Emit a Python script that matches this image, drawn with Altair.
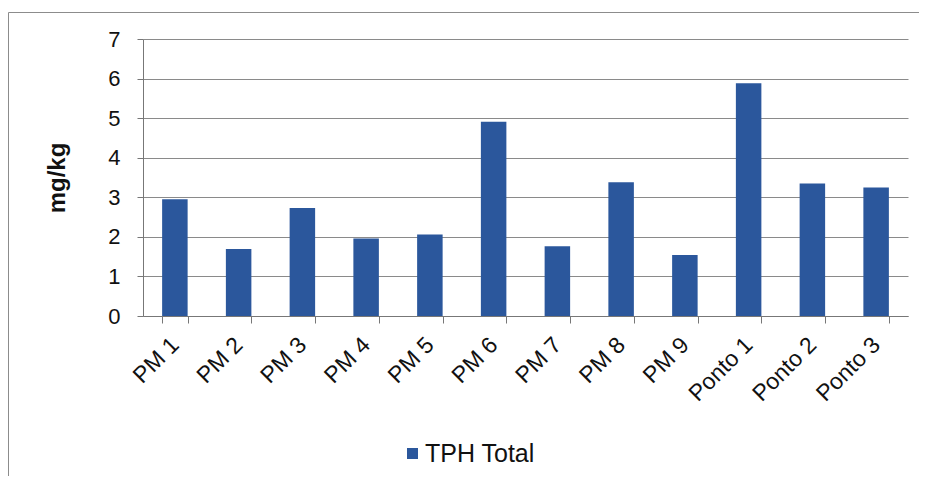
import altair as alt
import pandas as pd

categories = ["PM 1", "PM 2", "PM 3", "PM 4", "PM 5", "PM 6", "PM 7", "PM 8", "PM 9",
              "Ponto 1", "Ponto 2", "Ponto 3"]
values = [2.95, 1.69, 2.73, 1.96, 2.06, 4.91, 1.76, 3.38, 1.54, 5.88, 3.35, 3.25]
series_name = "TPH Total"
y_ticks = [0, 1, 2, 3, 4, 5, 6, 7]

df = pd.DataFrame({"cat": categories, "val": values, "series": [series_name] * len(categories)})

FONT = "Liberation Sans"
BLUE = "#2b579c"

bars = alt.Chart(df).mark_bar(color=BLUE).encode(
    x=alt.X("cat:N", sort=categories, title=None,
            scale=alt.Scale(paddingInner=0.6, paddingOuter=0.3),
            axis=alt.Axis(labelAngle=-45, labelAlign="right", labelBaseline="middle",
                          labelFontSize=23, labelFont=FONT, labelColor="#111",
                          tickBand="extent", tickSize=7, tickColor="#777",
                          domainColor="#777", labelPadding=18, grid=False)),
    y=alt.Y("val:Q", title="mg/kg",
            scale=alt.Scale(domain=[0, 7], nice=False),
            axis=alt.Axis(values=y_ticks, labelFontSize=22, labelFont=FONT, labelColor="#111",
                          tickSize=6, tickColor="#777", domainColor="#777",
                          labelPadding=17, grid=True, gridColor="#8a8a8a",
                          titleFont=FONT, titleFontSize=24, titleFontWeight="bold",
                          titleColor="#111", titlePadding=38)),
    color=alt.Color("series:N", scale=alt.Scale(range=[BLUE]),
                    legend=alt.Legend(title=None, orient="none", legendX=257, legendY=402,
                                      symbolType="square", symbolSize=121, symbolStrokeWidth=0,
                                      labelFont=FONT, labelFontSize=25, labelColor="#111",
                                      labelOffset=0)),
)

frame_df = pd.DataFrame({"a": [0]})
frame_left = alt.Chart(frame_df).mark_rule(stroke="#8c8c8c", strokeWidth=1).encode(
    x=alt.value(-134.5), y=alt.value(-26.5), y2=alt.value(600)
)
frame_top = alt.Chart(frame_df).mark_rule(stroke="#8c8c8c", strokeWidth=1).encode(
    x=alt.value(-134.5), x2=alt.value(1000), y=alt.value(-26.5)
)

chart = alt.layer(frame_left, frame_top, bars).properties(
    width=765, height=277,
    autosize=alt.AutoSizeParams(type="none"),
    padding={"left": 135, "top": 31, "right": 11, "bottom": 160},
    background="#ffffff",
).configure_view(stroke=None)

chart.save("out.html", embed_options={"renderer": "svg", "actions": False})
